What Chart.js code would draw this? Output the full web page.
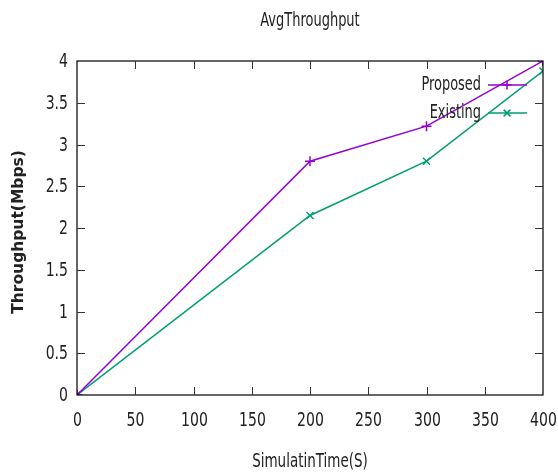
<!DOCTYPE html>
<html><head><meta charset="utf-8">
<script src="https://cdn.jsdelivr.net/npm/chart.js@4/dist/chart.umd.min.js"></script>
<style>html,body{margin:0;padding:0;background:#fff}#w{width:558px;height:473px}</style>
</head><body><div id="w"><canvas id="c" width="558" height="473"></canvas></div>
<script>
const chartTitle = "AvgThroughput";
const xTitle = "SimulatinTime(S)";
const yTitle = "Throughput(Mbps)";
const times = [0, 200, 300, 400];
const proposed = [0, 2.8, 3.22, 4.0];
const existing = [0, 2.15, 2.8, 3.88];
const seriesNames = ["Proposed", "Existing"];
const xTicks = [0, 50, 100, 150, 200, 250, 300, 350, 400];
const yTicks = [0, 0.5, 1, 1.5, 2, 2.5, 3, 3.5, 4];

const FONT = "'Liberation Sans Narrow', 'DejaVu Sans Condensed', 'Roboto Condensed', sans-serif";
const colors = ["#9400d3", "#009e73"];
const markers = ["cross", "crossRot"];

const toPts = (ys) => times.map((t, i) => ({x: t, y: ys[i]}));

function narrowText(ctx, text, x, y, sx, align) {
  ctx.save();
  ctx.translate(x, y);
  ctx.scale(sx, 1);
  ctx.textAlign = align;
  ctx.fillText(text, 0, 0);
  ctx.restore();
}

const decor = {
  id: 'decor',
  afterDraw(chart) {
    const ctx = chart.ctx, a = chart.chartArea;
    const xs = chart.scales.x, ys = chart.scales.y;
    ctx.save();
    ctx.strokeStyle = '#000'; ctx.lineWidth = 1.2;
    ctx.strokeRect(a.left, a.top, a.right - a.left, a.bottom - a.top);
    const L = 8;
    ctx.lineWidth = 1;
    ctx.strokeStyle = '#333';
    ctx.fillStyle = '#222';
    ctx.textBaseline = 'middle';
    ctx.font = "20px " + FONT;
    xs.ticks.forEach((t, i) => {
      const p = Math.round(xs.getPixelForValue(t.value)) + 0.5;
      narrowText(ctx, String(t.value), p, 421, 0.78, 'center');
      if (i === 0 || i === xs.ticks.length - 1) return;
      ctx.beginPath(); ctx.moveTo(p, a.bottom); ctx.lineTo(p, a.bottom - L); ctx.stroke();
      ctx.beginPath(); ctx.moveTo(p, a.top); ctx.lineTo(p, a.top + L); ctx.stroke();
    });
    ys.ticks.forEach((t, i) => {
      const p = Math.round(ys.getPixelForValue(t.value)) + 0.5;
      narrowText(ctx, String(t.value), 68, p, 0.78, 'right');
      if (i === 0 || i === ys.ticks.length - 1) return;
      ctx.beginPath(); ctx.moveTo(a.left, p); ctx.lineTo(a.left + L, p); ctx.stroke();
      ctx.beginPath(); ctx.moveTo(a.right, p); ctx.lineTo(a.right - L, p); ctx.stroke();
    });
    ctx.font = "19px " + FONT;
    narrowText(ctx, chartTitle, (a.left + a.right) / 2, 21, 0.76, 'center');
    ctx.font = "20px " + FONT;
    narrowText(ctx, xTitle, (a.left + a.right) / 2, 462, 0.75, 'center');
    ctx.save();
    ctx.translate(19, 232);
    ctx.rotate(-Math.PI / 2);
    ctx.textAlign = 'center';
    ctx.font = "bold 15.5px 'DejaVu Sans', Verdana, sans-serif";
    ctx.fillText(yTitle, 0, 0);
    ctx.restore();
    ctx.font = "20px " + FONT;
    const rows = [85, 113];
    seriesNames.forEach((n, i) => {
      const y = rows[i];
      ctx.fillStyle = '#222';
      narrowText(ctx, n, 481, y, 0.72, 'right');
      ctx.strokeStyle = colors[i]; ctx.lineWidth = 1.5;
      ctx.beginPath(); ctx.moveTo(488, y); ctx.lineTo(527, y); ctx.stroke();
      const mx = 507, r = 4.5;
      ctx.beginPath();
      if (markers[i] === 'cross') {
        ctx.moveTo(mx - r, y); ctx.lineTo(mx + r, y);
        ctx.moveTo(mx, y - r); ctx.lineTo(mx, y + r);
      } else {
        ctx.moveTo(mx - r*0.75, y - r*0.75); ctx.lineTo(mx + r*0.75, y + r*0.75);
        ctx.moveTo(mx - r*0.75, y + r*0.75); ctx.lineTo(mx + r*0.75, y - r*0.75);
      }
      ctx.stroke();
    });
    ctx.restore();
  }
};

new Chart(document.getElementById('c'), {
  type: 'line',
  data: {
    datasets: [
      {label: seriesNames[0], data: toPts(proposed), borderColor: colors[0], backgroundColor: colors[0],
       borderWidth: 1.5, pointStyle: markers[0], pointRadius: 5, pointBorderWidth: 1.5, tension: 0, fill: false},
      {label: seriesNames[1], data: toPts(existing), borderColor: colors[1], backgroundColor: colors[1],
       borderWidth: 1.5, pointStyle: markers[1], pointRadius: 5, pointBorderWidth: 1.5, tension: 0, fill: false}
    ]
  },
  options: {
    responsive: false, animation: false,
    layout: {padding: {left: 0, right: 15, top: 61, bottom: 0}},
    plugins: {legend: {display: false}, title: {display: false}, tooltip: {enabled: false}},
    scales: {
      x: {
        type: 'linear', min: 0, max: 400,
        afterBuildTicks: s => { s.ticks = xTicks.map(v => ({value: v})); },
        afterFit: s => { s.height = 78; s.paddingLeft = 0; s.paddingRight = 0; },
        grid: {display: false, drawTicks: false},
        border: {display: false},
        ticks: {display: false, autoSkip: false}
      },
      y: {
        type: 'linear', min: 0, max: 4,
        afterBuildTicks: s => { s.ticks = yTicks.map(v => ({value: v})); },
        afterFit: s => { s.width = 77; s.paddingTop = 0; s.paddingBottom = 0; },
        grid: {display: false, drawTicks: false},
        border: {display: false},
        ticks: {display: false, autoSkip: false}
      }
    }
  },
  plugins: [decor]
});
</script>
</body></html>
